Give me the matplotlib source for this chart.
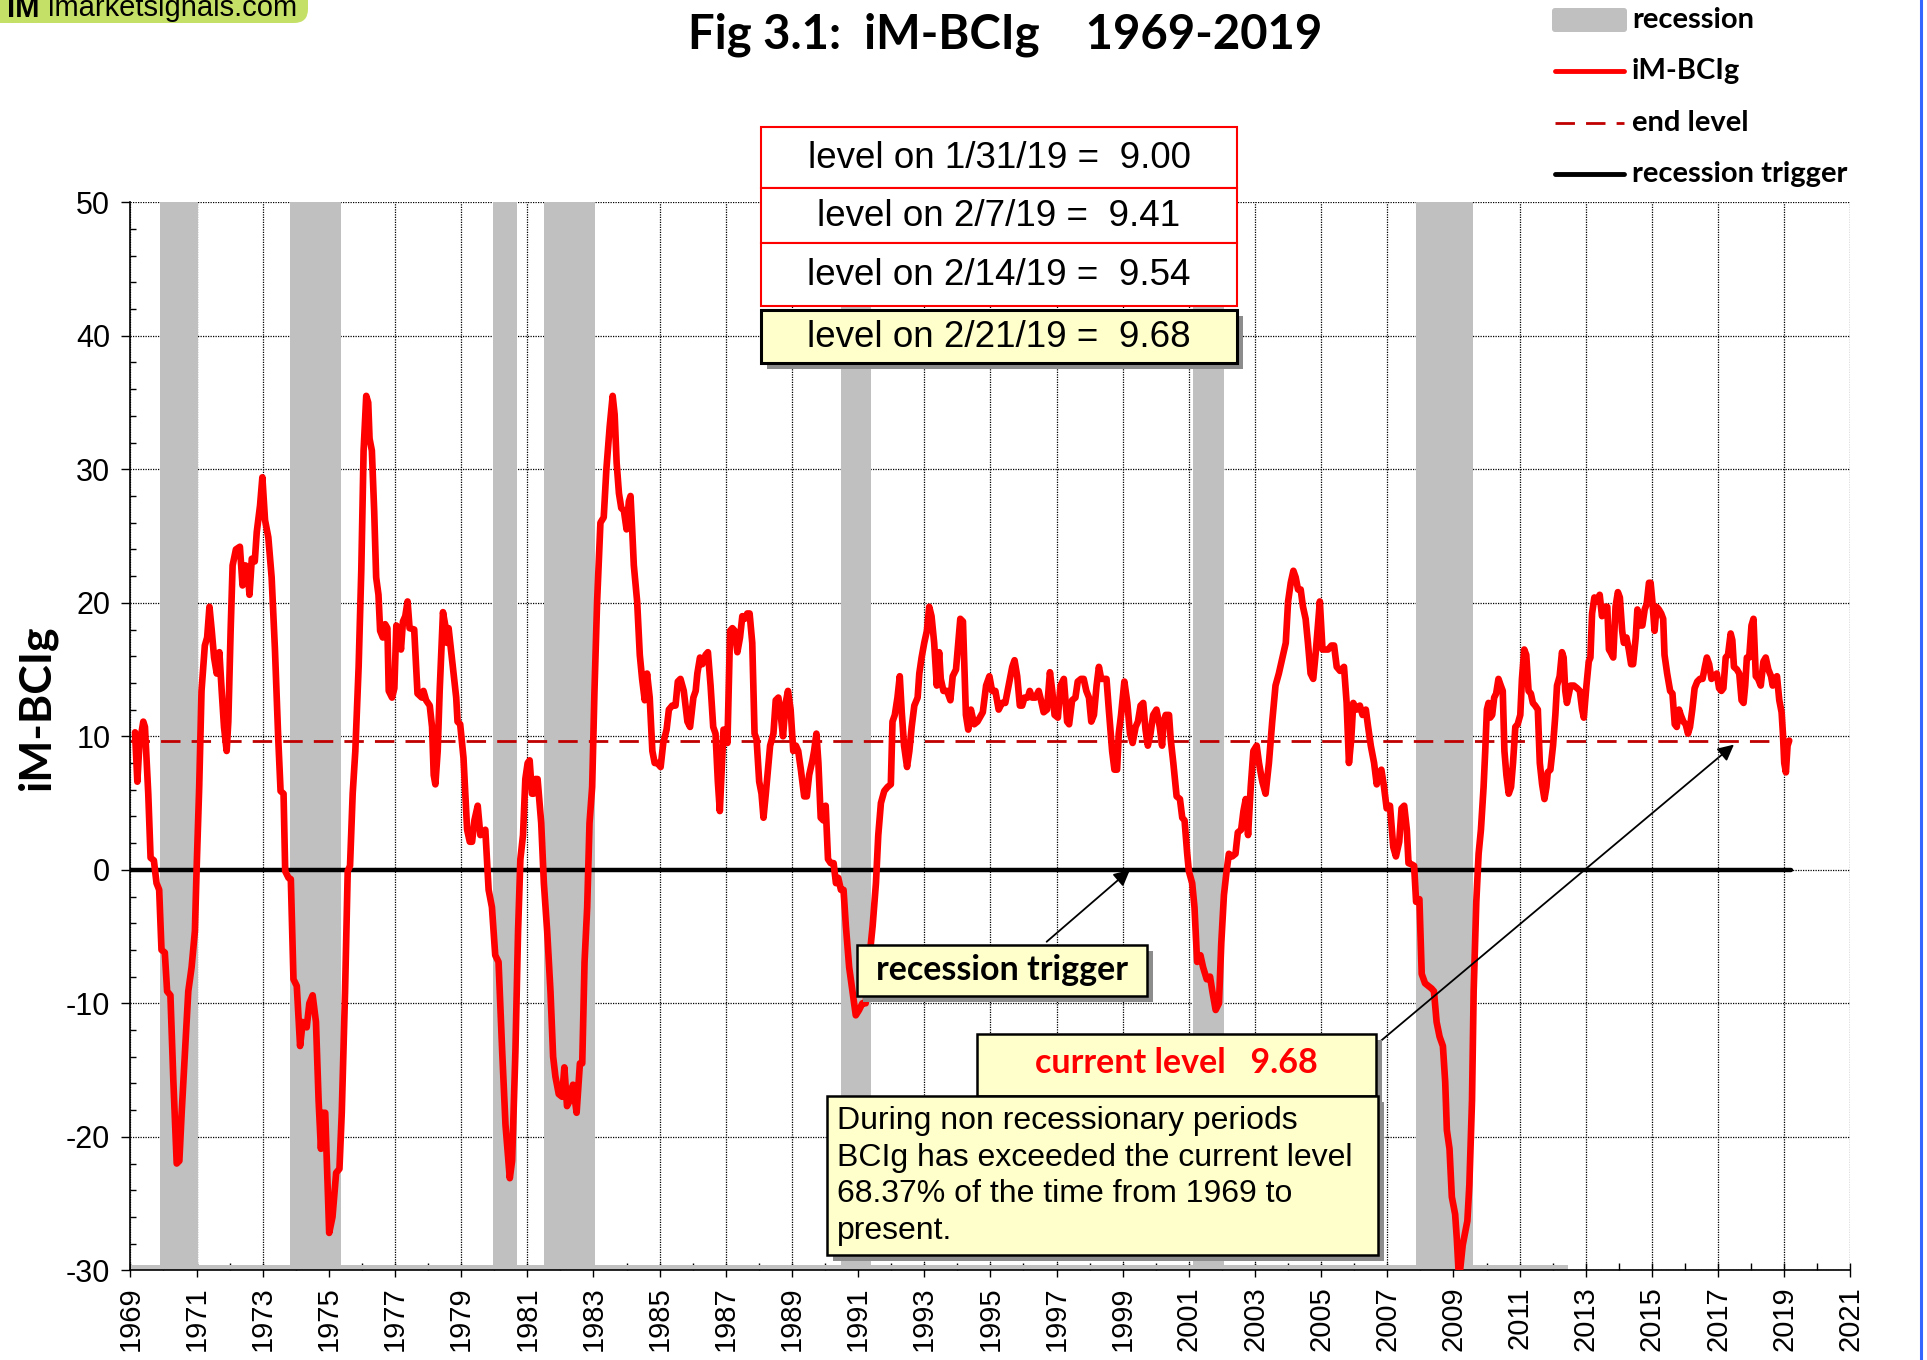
import matplotlib
matplotlib.use('Agg')
import matplotlib.pyplot as plt
import matplotlib.transforms as mtransforms
from matplotlib.patches import Rectangle, FancyBboxPatch
from matplotlib.lines import Line2D
from matplotlib.ticker import MultipleLocator, FixedLocator

# ---- data ----
bcig_years = [
    1969.14, 1969.21, 1969.27, 1969.39, 1969.44, 1969.54, 1969.61, 1969.71, 1969.79, 1969.87,
    1969.94, 1970.04, 1970.11, 1970.21, 1970.30, 1970.40, 1970.48, 1970.55, 1970.65, 1970.75,
    1970.85, 1970.95, 1971.00, 1971.08, 1971.15, 1971.25, 1971.32, 1971.39, 1971.46, 1971.53,
    1971.61, 1971.69, 1971.76, 1971.83, 1971.91, 1971.96, 1972.03, 1972.09, 1972.19, 1972.31,
    1972.39, 1972.48, 1972.54, 1972.60, 1972.67, 1972.76, 1972.82, 1972.92, 1972.99, 1973.07,
    1973.17, 1973.27, 1973.37, 1973.47, 1973.54, 1973.63, 1973.68, 1973.78, 1973.85, 1973.93,
    1974.03, 1974.13, 1974.21, 1974.33, 1974.41, 1974.51, 1974.61, 1974.69, 1974.76, 1974.82,
    1974.89, 1975.01, 1975.11, 1975.22, 1975.32, 1975.39, 1975.49, 1975.57, 1975.64, 1975.72,
    1975.80, 1975.90, 1975.98, 1976.05, 1976.13, 1976.19, 1976.23, 1976.30, 1976.37, 1976.43,
    1976.50, 1976.55, 1976.63, 1976.70, 1976.77, 1976.81, 1976.91, 1976.98, 1977.04, 1977.11,
    1977.18, 1977.24, 1977.31, 1977.38, 1977.44, 1977.58, 1977.68, 1977.81, 1977.86, 1977.94,
    1978.05, 1978.12, 1978.17, 1978.22, 1978.29, 1978.35, 1978.45, 1978.52, 1978.57, 1978.62,
    1978.69, 1978.77, 1978.85, 1978.89, 1978.97, 1979.07, 1979.18, 1979.26, 1979.33, 1979.40,
    1979.50, 1979.58, 1979.66, 1979.73, 1979.83, 1979.93, 1980.03, 1980.13, 1980.24, 1980.34,
    1980.47, 1980.54, 1980.64, 1980.72, 1980.79, 1980.87, 1980.94, 1981.01, 1981.07, 1981.14,
    1981.19, 1981.24, 1981.31, 1981.42, 1981.50, 1981.60, 1981.70, 1981.78, 1981.85, 1981.95,
    1982.05, 1982.12, 1982.20, 1982.28, 1982.38, 1982.49, 1982.59, 1982.66, 1982.73, 1982.81,
    1982.88, 1982.96, 1983.03, 1983.11, 1983.21, 1983.31, 1983.39, 1983.49, 1983.58, 1983.64,
    1983.70, 1983.77, 1983.84, 1983.92, 1984.00, 1984.07, 1984.12, 1984.17, 1984.22, 1984.32,
    1984.40, 1984.47, 1984.55, 1984.62, 1984.70, 1984.78, 1984.85, 1984.93, 1985.03, 1985.11,
    1985.21, 1985.28, 1985.38, 1985.48, 1985.55, 1985.63, 1985.73, 1985.84, 1985.92, 1986.02,
    1986.09, 1986.14, 1986.22, 1986.29, 1986.39, 1986.46, 1986.54, 1986.62, 1986.69, 1986.76,
    1986.82, 1986.86, 1986.93, 1987.00, 1987.05, 1987.13, 1987.20, 1987.27, 1987.35, 1987.43,
    1987.50, 1987.57, 1987.65, 1987.72, 1987.80, 1987.87, 1987.93, 1988.01, 1988.08, 1988.14,
    1988.21, 1988.26, 1988.34, 1988.44, 1988.51, 1988.59, 1988.66, 1988.73, 1988.81, 1988.88,
    1988.96, 1989.04, 1989.12, 1989.19, 1989.27, 1989.37, 1989.45, 1989.52, 1989.62, 1989.67,
    1989.74, 1989.80, 1989.87, 1989.95, 1990.02, 1990.09, 1990.17, 1990.26, 1990.33, 1990.40,
    1990.48, 1990.56, 1990.63, 1990.73, 1990.83, 1990.93, 1991.03, 1991.13, 1991.23, 1991.33,
    1991.44, 1991.54, 1991.61, 1991.69, 1991.79, 1991.89, 1991.99, 1992.04, 1992.11, 1992.19,
    1992.26, 1992.32, 1992.39, 1992.48, 1992.55, 1992.62, 1992.70, 1992.80, 1992.85, 1992.92,
    1993.00, 1993.08, 1993.15, 1993.22, 1993.30, 1993.38, 1993.45, 1993.50, 1993.58, 1993.69,
    1993.79, 1993.86, 1993.96, 1994.03, 1994.09, 1994.17, 1994.21, 1994.26, 1994.33, 1994.41,
    1994.51, 1994.61, 1994.77, 1994.87, 1994.97, 1995.05, 1995.15, 1995.25, 1995.35, 1995.45,
    1995.55, 1995.66, 1995.73, 1995.81, 1995.89, 1995.96, 1996.03, 1996.13, 1996.19, 1996.26,
    1996.36, 1996.46, 1996.53, 1996.61, 1996.71, 1996.80, 1996.87, 1996.94, 1997.04, 1997.12,
    1997.22, 1997.32, 1997.38, 1997.47, 1997.57, 1997.64, 1997.74, 1997.82, 1997.90, 1997.98,
    1998.05, 1998.13, 1998.21, 1998.28, 1998.35, 1998.43, 1998.51, 1998.58, 1998.68, 1998.75,
    1998.83, 1998.88, 1998.95, 1999.05, 1999.14, 1999.22, 1999.30, 1999.39, 1999.46, 1999.54,
    1999.62, 1999.69, 1999.76, 1999.84, 1999.92, 2000.02, 2000.12, 2000.19, 2000.24, 2000.30,
    2000.40, 2000.45, 2000.53, 2000.63, 2000.73, 2000.80, 2000.87, 2000.95, 2001.00, 2001.10,
    2001.17, 2001.25, 2001.35, 2001.43, 2001.54, 2001.64, 2001.71, 2001.81, 2001.91, 2001.98,
    2002.06, 2002.14, 2002.21, 2002.31, 2002.41, 2002.48, 2002.58, 2002.65, 2002.72, 2002.79,
    2002.87, 2002.95, 2003.05, 2003.12, 2003.22, 2003.32, 2003.42, 2003.52, 2003.62, 2003.72,
    2003.83, 2003.93, 2004.00, 2004.08, 2004.16, 2004.23, 2004.30, 2004.38, 2004.45, 2004.53,
    2004.60, 2004.68, 2004.76, 2004.83, 2004.90, 2004.96, 2005.04, 2005.11, 2005.21, 2005.31,
    2005.39, 2005.47, 2005.57, 2005.69, 2005.77, 2005.84, 2005.91, 2005.97, 2006.07, 2006.17,
    2006.25, 2006.35, 2006.42, 2006.50, 2006.60, 2006.68, 2006.75, 2006.82, 2006.90, 2006.98,
    2007.08, 2007.18, 2007.26, 2007.36, 2007.43, 2007.51, 2007.59, 2007.64, 2007.74, 2007.81,
    2007.87, 2007.97, 2008.04, 2008.14, 2008.24, 2008.34, 2008.41, 2008.49, 2008.58, 2008.68,
    2008.75, 2008.80, 2008.88, 2008.95, 2009.05, 2009.10, 2009.15, 2009.20, 2009.28, 2009.35,
    2009.42, 2009.48, 2009.56, 2009.61, 2009.69, 2009.76, 2009.83, 2009.91, 2009.96, 2010.01,
    2010.06, 2010.11, 2010.17, 2010.23, 2010.29, 2010.36, 2010.43, 2010.49, 2010.54, 2010.60,
    2010.67, 2010.74, 2010.80, 2010.87, 2010.94, 2011.02, 2011.07, 2011.14, 2011.20, 2011.27,
    2011.34, 2011.40, 2011.47, 2011.55, 2011.61, 2011.68, 2011.75, 2011.81, 2011.85, 2011.93,
    2012.01, 2012.08, 2012.13, 2012.21, 2012.28, 2012.33, 2012.38, 2012.43, 2012.54, 2012.64,
    2012.74, 2012.82, 2012.89, 2012.94, 2013.02, 2013.09, 2013.14, 2013.19, 2013.26, 2013.34,
    2013.42, 2013.49, 2013.57, 2013.65, 2013.70, 2013.75, 2013.83, 2013.90, 2013.97, 2014.03,
    2014.10, 2014.15, 2014.23, 2014.30, 2014.37, 2014.43, 2014.51, 2014.56, 2014.64, 2014.71,
    2014.78, 2014.84, 2014.91, 2014.96, 2015.02, 2015.08, 2015.14, 2015.21, 2015.28, 2015.34,
    2015.38, 2015.46, 2015.55, 2015.62, 2015.69, 2015.75, 2015.82, 2015.87, 2015.95, 2016.02,
    2016.09, 2016.15, 2016.22, 2016.29, 2016.37, 2016.45, 2016.53, 2016.60, 2016.66, 2016.73,
    2016.80, 2016.88, 2016.96, 2017.03, 2017.10, 2017.16, 2017.23, 2017.30, 2017.38, 2017.43,
    2017.48, 2017.57, 2017.64, 2017.71, 2017.77, 2017.82, 2017.87, 2017.94, 2018.01, 2018.07,
    2018.14, 2018.21, 2018.29, 2018.37, 2018.44, 2018.52, 2018.60, 2018.65, 2018.72, 2018.78,
    2018.85, 2018.92, 2018.96, 2019.00, 2019.05, 2019.10, 2019.15,
]
bcig_values = [
    10.3, 6.6, 9.3, 11.1, 10.7, 5.7, 0.9, 0.7, -1.0, -1.5,
    -6.0, -6.2, -9.1, -9.4, -15.9, -22.0, -21.8, -18.2, -13.6, -9.1,
    -7.3, -4.6, -0.1, 6.2, 13.4, 16.8, 17.4, 19.7, 17.9, 15.9,
    14.7, 16.3, 13.4, 10.7, 8.9, 11.1, 17.9, 22.8, 24.0, 24.2,
    21.3, 22.8, 22.6, 20.6, 23.3, 23.1, 25.3, 27.3, 29.4, 26.2,
    24.9, 21.9, 16.5, 9.8, 5.9, 5.7, -0.1, -0.6, -0.7, -8.2,
    -8.7, -13.2, -11.4, -11.8, -10.0, -9.4, -11.4, -17.3, -20.9, -18.2,
    -18.2, -27.2, -26.0, -22.7, -22.4, -18.2, -9.1, -0.1, 0.3, 5.7,
    8.9, 15.2, 22.4, 31.4, 35.5, 35.0, 32.3, 31.4, 26.9, 21.9,
    20.6, 17.9, 17.4, 18.4, 18.1, 13.4, 12.9, 13.6, 18.3, 18.1,
    16.5, 18.6, 19.0, 20.1, 18.1, 18.0, 13.2, 12.9, 13.4, 12.7,
    12.3, 10.7, 7.1, 6.4, 8.9, 13.4, 19.3, 18.3, 17.0, 18.1,
    16.5, 14.7, 12.9, 11.1, 10.9, 8.4, 3.0, 2.1, 2.1, 3.7,
    4.8, 2.6, 2.7, 3.0, -1.5, -2.8, -6.4, -6.9, -13.6, -19.1,
    -23.1, -21.8, -13.6, -4.6, 0.8, 2.6, 6.8, 8.0, 8.2, 5.7,
    5.7, 6.8, 6.8, 3.5, -1.0, -4.6, -9.1, -14.0, -15.5, -16.8,
    -17.0, -14.8, -17.7, -17.3, -16.1, -18.2, -14.5, -14.5, -6.9, -2.8,
    3.5, 6.2, 13.4, 20.1, 26.0, 26.4, 30.0, 33.2, 35.5, 34.1,
    30.5, 28.2, 27.1, 26.9, 25.5, 27.6, 28.0, 25.5, 22.8, 20.1,
    16.1, 14.3, 12.7, 14.7, 12.9, 8.9, 8.0, 8.0, 7.7, 9.5,
    10.5, 12.0, 12.3, 12.3, 14.1, 14.3, 13.4, 11.1, 10.7, 12.9,
    13.4, 14.7, 15.9, 15.4, 16.1, 16.3, 13.8, 10.7, 10.2, 6.6,
    4.4, 6.6, 10.5, 10.5, 9.5, 17.9, 18.1, 17.9, 16.3, 17.4,
    19.0, 18.8, 19.2, 19.2, 17.0, 10.2, 9.8, 6.6, 5.7, 3.9,
    5.7, 7.1, 9.3, 10.2, 12.7, 12.9, 11.6, 10.0, 12.5, 13.4,
    12.0, 8.9, 9.3, 8.9, 7.5, 5.5, 5.5, 7.1, 8.2, 8.9,
    10.2, 8.0, 3.9, 3.7, 4.8, 0.8, 0.5, 0.5, -1.0, -0.6,
    -1.5, -1.5, -4.2, -7.3, -9.1, -10.9, -10.5, -10.0, -10.0, -6.9,
    -4.2, -1.0, 2.6, 5.0, 5.9, 6.2, 6.4, 11.1, 11.6, 12.9,
    14.5, 11.8, 9.3, 7.7, 8.9, 10.7, 12.3, 12.9, 14.7, 15.9,
    17.0, 17.9, 19.7, 19.0, 17.0, 13.8, 16.3, 14.3, 13.4, 13.4,
    12.7, 14.5, 15.0, 17.0, 18.8, 18.6, 15.6, 11.6, 10.5, 12.0,
    10.9, 11.1, 11.8, 13.8, 14.5, 13.4, 13.4, 12.0, 12.5, 12.5,
    13.8, 15.2, 15.7, 14.5, 12.3, 12.3, 12.9, 12.9, 13.4, 12.9,
    12.9, 13.4, 12.7, 11.8, 12.0, 14.8, 13.4, 11.6, 11.4, 13.8,
    14.3, 11.1, 10.9, 12.7, 12.9, 14.1, 14.3, 14.3, 13.4, 12.9,
    11.1, 11.6, 13.8, 15.2, 14.3, 14.3, 14.3, 12.0, 8.9, 7.5,
    7.5, 10.2, 11.6, 14.1, 12.5, 10.2, 9.5, 10.7, 11.1, 12.3,
    12.5, 10.5, 9.3, 10.2, 11.6, 12.0, 10.7, 9.3, 11.1, 11.6,
    11.6, 9.8, 8.0, 5.5, 5.3, 3.9, 3.7, 1.2, -0.1, -1.0,
    -2.8, -6.9, -6.4, -7.3, -8.2, -8.0, -9.1, -10.5, -10.0, -5.5,
    -1.9, -0.1, 1.2, 1.0, 1.2, 2.8, 3.0, 4.4, 5.3, 2.6,
    6.2, 8.9, 9.3, 8.0, 6.6, 5.7, 8.0, 11.1, 13.8, 14.7,
    15.9, 17.0, 20.1, 21.5, 22.4, 21.9, 21.0, 21.0, 19.7, 18.8,
    17.0, 14.7, 14.3, 16.1, 18.3, 20.1, 16.5, 16.5, 16.5, 16.8,
    16.8, 15.2, 14.9, 15.2, 12.5, 8.0, 9.8, 12.5, 12.0, 12.3,
    11.6, 12.0, 10.7, 9.3, 8.0, 6.4, 7.1, 7.5, 6.2, 4.6,
    4.8, 1.7, 1.0, 2.1, 4.6, 4.8, 3.0, 0.5, 0.4, 0.3,
    -2.4, -2.2, -7.8, -8.5, -8.7, -8.9, -9.1, -11.4, -12.5, -13.2,
    -15.9, -19.5, -20.9, -24.5, -25.8, -27.6, -29.9, -30.0, -28.1, -27.2,
    -26.3, -23.6, -17.3, -9.1, -2.4, 1.2, 3.0, 6.2, 8.9, 12.0,
    12.5, 11.4, 11.6, 12.9, 13.2, 14.3, 13.8, 13.4, 8.9, 7.1,
    5.7, 6.2, 8.0, 10.7, 10.9, 11.6, 14.3, 16.5, 16.1, 13.4,
    13.2, 12.5, 12.3, 12.0, 8.0, 6.4, 5.3, 6.2, 7.3, 7.5,
    9.3, 11.6, 13.8, 14.5, 16.3, 15.9, 13.4, 12.5, 13.8, 13.8,
    13.6, 13.4, 12.0, 11.4, 13.8, 15.6, 15.9, 19.2, 20.4, 20.1,
    20.6, 19.0, 19.7, 19.7, 16.5, 16.3, 15.9, 19.7, 20.8, 20.4,
    17.9, 17.0, 17.4, 16.5, 15.4, 15.4, 17.4, 19.5, 18.3, 18.3,
    19.5, 19.9, 21.5, 21.5, 19.9, 17.9, 19.7, 19.5, 19.2, 18.8,
    16.1, 14.7, 13.4, 13.2, 10.9, 10.7, 12.0, 11.6, 11.1, 10.9,
    10.2, 10.7, 12.0, 13.6, 14.1, 14.3, 14.3, 15.2, 15.9, 15.4,
    14.3, 14.5, 14.7, 13.6, 13.4, 13.6, 15.9, 16.1, 17.7, 17.2,
    15.2, 15.0, 14.7, 12.7, 12.5, 13.8, 15.9, 15.9, 18.3, 18.8,
    14.5, 14.3, 13.8, 15.6, 15.9, 15.0, 14.5, 13.8, 14.3, 14.5,
    12.7, 11.8, 10.2, 8.0, 7.3, 9.3, 9.68,
]

rec_start = [1969.89, 1973.83, 1979.97, 1981.50, 1990.49, 2001.14, 2007.88]
rec_end = [1971.03, 1975.36, 1980.70, 1983.04, 1991.38, 2002.05, 2009.60]
rec_strip_end = 2012.45

series_start = 1969.0
series_end = 2019.2
trigger_level = 0.0
end_level = 9.68

year_ticks = list(range(1969, 2022, 2))

level_dates = ['1/31/19', '2/7/19', '2/14/19', '2/21/19']
level_values = [9.00, 9.41, 9.54, 9.68]
current_level = 9.68
note_lines = ['During non recessionary periods',
              'BCIg has exceeded the current level',
              '68.37% of the time from 1969 to',
              'present.']

legend_labels = ['recession', 'iM-BCIg', 'end level', 'recession trigger']

# ---- figure ----
plt.rcParams['font.family'] = ['Liberation Sans', 'DejaVu Sans']
plt.rcParams['axes.unicode_minus'] = False
CAL = ['Lato', 'DejaVu Sans']
W, H = 1927, 1360
fig = plt.figure(figsize=(W / 100, H / 100), dpi=100)
# pixel coords of the image, origin top-left
px = mtransforms.Affine2D().scale(0.01, -0.01).translate(0, H / 100) + fig.dpi_scale_trans

ax = fig.add_axes([130.4 / W, 1 - 1270.3 / H, (1850.4 - 130.4) / W, (1270.3 - 202.3) / H])

for s, e in zip(rec_start, rec_end):
    ax.axvspan(s, e, color='#c0c0c0', lw=0, zorder=1)
ax.fill_between([series_start + 0.05, rec_strip_end], -30, -29.6, color='#c0c0c0', lw=0, zorder=1)

ax.plot([series_start, series_end], [end_level, end_level], color='#c00000', lw=2,
        ls=(0, (7, 4)), zorder=2)
ax.plot([series_start, series_end], [trigger_level, trigger_level], color='black', lw=3.2,
        solid_capstyle='round', zorder=3)
ax.plot(bcig_years, bcig_values, color='red', lw=4.8, solid_joinstyle='round',
        solid_capstyle='round', zorder=4)

ax.set_xlim(1969, 2021)
ax.set_ylim(-30, 50)
ax.xaxis.set_major_locator(FixedLocator(year_ticks))
ax.xaxis.set_minor_locator(MultipleLocator(1))
ax.yaxis.set_major_locator(MultipleLocator(10))
ax.yaxis.set_minor_locator(MultipleLocator(2))
ax.grid(True, which='major', color='black', linestyle=(0, (1, 1)), linewidth=0.9)
ax.set_axisbelow(True)
for side in ['top', 'right']:
    ax.spines[side].set_visible(False)
ax.spines['left'].set_linewidth(1.2)
ax.spines['bottom'].set_linewidth(1.2)
ax.tick_params(axis='x', which='major', direction='inout', length=9.5, width=1, pad=7,
               labelsize=21, labelrotation=90)
ax.tick_params(axis='x', which='minor', direction='in', length=5, width=1)
ax.tick_params(axis='y', which='major', direction='out', length=6.5, width=1, pad=8,
               labelsize=22)
ax.tick_params(axis='y', which='minor', direction='in', length=4.5, width=1)

# arrows
ax.annotate('', xy=(1999.22, trigger_level), xytext=(1996.70, -5.39),
            arrowprops=dict(arrowstyle='-|>', color='black', lw=1.3, mutation_scale=24,
                            shrinkA=0, shrinkB=0), zorder=6)
ax.annotate('', xy=(2017.48, end_level - 0.3), xytext=(2006.68, -13.07),
            arrowprops=dict(arrowstyle='-|>', color='black', lw=1.3, mutation_scale=24,
                            shrinkA=0, shrinkB=0), zorder=6)


def box(x0, y0, x1, y1, fc, ec, lw, shadow=False):
    if shadow:
        fig.add_artist(Rectangle((x0 + 6, y0 + 6), x1 - x0, y1 - y0, fc='#8c8c8c', ec='none',
                                 transform=px, zorder=10))
    fig.add_artist(Rectangle((x0, y0), x1 - x0, y1 - y0, fc=fc, ec=ec, lw=lw,
                             transform=px, zorder=11))


# level boxes
level_rows = [(127, 188), (188, 243), (243, 306), (310, 363)]
for i, (d, v) in enumerate(zip(level_dates, level_values)):
    y0, y1 = level_rows[i]
    last = i == len(level_dates) - 1
    box(761, y0, 1237, y1, '#ffffcc' if last else 'white', 'black' if last else 'red',
        2.2 if last else 1.5, shadow=last)
    fig.text(999, (y0 + y1) / 2 + 1, f'level on {d} =  {v:.2f}', transform=px,
             fontsize=26.5, ha='center', va='center', zorder=12)

# recession trigger box
box(857, 945, 1147, 996, '#ffffcc', 'black', 1.8, shadow=True)
fig.text(1002, 970, 'recession trigger', transform=px, family=CAL, fontweight='bold',
         fontsize=24.5, ha='center', va='center', zorder=12)

# current level box and note box
box(977, 1034, 1376, 1096, '#ffffcc', 'black', 1.8, shadow=True)
fig.text(1176, 1063, f'current level   {current_level:.2f}', transform=px, family=CAL,
         fontweight='bold', fontsize=24.5, color='red', ha='center', va='center', zorder=12)
box(827, 1096, 1378, 1255, '#ffffcc', 'black', 1.8, shadow=True)
for i, line in enumerate(note_lines):
    fig.text(837, 1129.3 + i * 36.4, line, transform=px, fontsize=23, ha='left',
             va='baseline', zorder=12)

# title and y label
fig.text(1005, 35, 'Fig 3.1:  iM-BCIg    1969-2019', transform=px, family=CAL,
         fontweight='bold', fontsize=34, ha='center', va='center')
fig.text(37, 707, 'iM-BCIg', transform=px, family=CAL, fontweight='bold', fontsize=32,
         rotation=90, ha='center', va='center')

# legend
leg_rows = [20, 71, 123, 174]
fig.add_artist(FancyBboxPatch((1552, 8), 75, 24, boxstyle='round,pad=0,rounding_size=3',
                              fc='#c0c0c0', ec='none', transform=px))
fig.add_artist(Line2D([1555, 1624], [leg_rows[1]] * 2, color='red', lw=3.5,
                      solid_capstyle='round', transform=px))
fig.add_artist(Line2D([1555, 1624], [leg_rows[2]] * 2, color='#c00000', lw=2,
                      ls=(0, (7, 4)), transform=px))
fig.add_artist(Line2D([1555, 1624], [leg_rows[3]] * 2, color='black', lw=3.5,
                      solid_capstyle='round', transform=px))
for lab, y in zip(legend_labels, leg_rows):
    fig.text(1632, y, lab, transform=px, family=CAL, fontweight='bold', fontsize=21,
             ha='left', va='center')

# logo (cut by the top edge, as in the original)
fig.add_artist(FancyBboxPatch((-20, -30), 328, 53, boxstyle='round,pad=0,rounding_size=14',
                              fc='#c5e067', ec='none', transform=px))
fig.text(7, 17, 'IM', transform=px, fontweight='bold', fontsize=21, ha='left', va='baseline')
fig.text(48, 16, 'imarketsignals.com', transform=px, fontsize=21, ha='left', va='baseline')

# blue edge line
fig.add_artist(Line2D([1920.5, 1920.5], [0, H], color='#3366ff', lw=2.2, transform=px))

fig.savefig('out.png', dpi=100)
